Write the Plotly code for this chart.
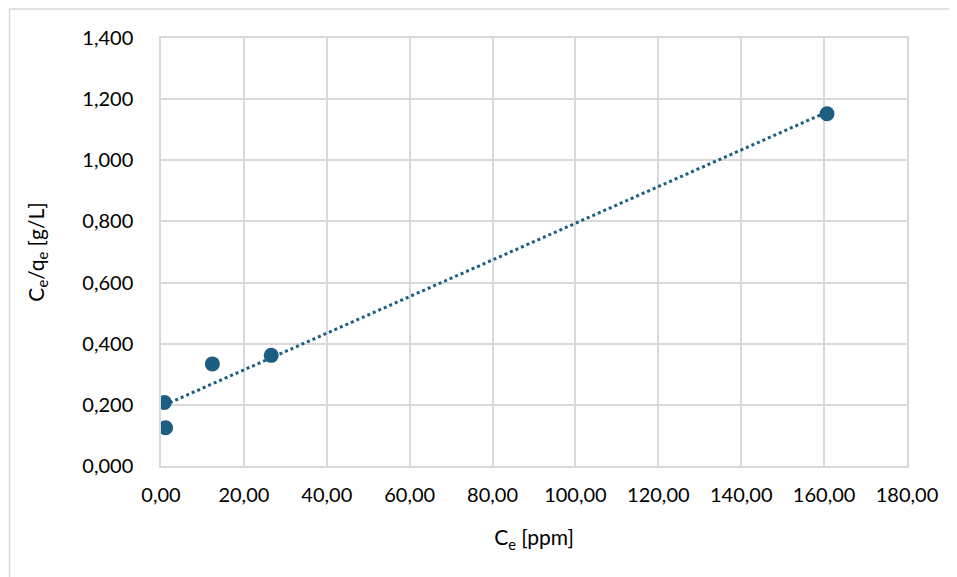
import numpy as np
import plotly.graph_objects as go

# Data
ce_ppm = [0.8, 1.1, 12.4, 26.6, 160.7]
ce_over_qe = [0.208, 0.125, 0.334, 0.362, 1.152]

x_ticks = [0, 20, 40, 60, 80, 100, 120, 140, 160, 180]
y_ticks = [0, 0.2, 0.4, 0.6, 0.8, 1.0, 1.2, 1.4]

color = "#1B5E82"
grid = "#D9D9D9"
font_family = "Lato, 'Open Sans', sans-serif"

# Linear trendline (least squares) over data range
slope, intercept = np.polyfit(ce_ppm, ce_over_qe, 1)
tx = [min(ce_ppm), max(ce_ppm)]
ty = [slope * v + intercept for v in tx]

fig = go.Figure()
fig.add_trace(go.Scatter(x=tx, y=ty, mode="lines",
                         line=dict(color=color, width=3, dash="dot"),
                         hoverinfo="skip", showlegend=False))
fig.add_trace(go.Scatter(x=ce_ppm, y=ce_over_qe, mode="markers",
                         marker=dict(color=color, size=15),
                         showlegend=False))

fig.update_layout(
    width=957, height=577,
    margin=dict(l=153, r=58, t=30, b=119),
    paper_bgcolor="white", plot_bgcolor="white",
    separators=",.",
    font=dict(family=font_family, size=20, color="#000000"),
    xaxis=dict(range=[0, 180], tickvals=x_ticks, tickformat=".2f",
               showgrid=True, gridcolor=grid, gridwidth=1.5,
               zeroline=False, showline=True, linecolor=grid, linewidth=1.5,
               mirror=True, ticks="", ticklabelstandoff=10,
               title=dict(text="C<sub>e</sub> [ppm]", standoff=26,
                          font=dict(size=21))),
    yaxis=dict(range=[0, 1.4], tickvals=y_ticks, tickformat=".3f",
               showgrid=True, gridcolor=grid, gridwidth=1.5,
               zeroline=False, showline=True, linecolor=grid, linewidth=1.5,
               mirror=True, ticks="", ticklabelstandoff=22,
               title=dict(text="C<sub>e</sub>/q<sub>e</sub> [g/L]", standoff=32,
                          font=dict(size=21))),
    shapes=[dict(type="rect", xref="paper", yref="paper",
                 x0=(9.5 - 161) / 746, x1=1.2, y0=-0.4, y1=(466 - 9) / 428,
                 line=dict(color=grid, width=1.5), fillcolor="rgba(0,0,0,0)",
                 layer="below")],
)

fig.write_html("out.html")
